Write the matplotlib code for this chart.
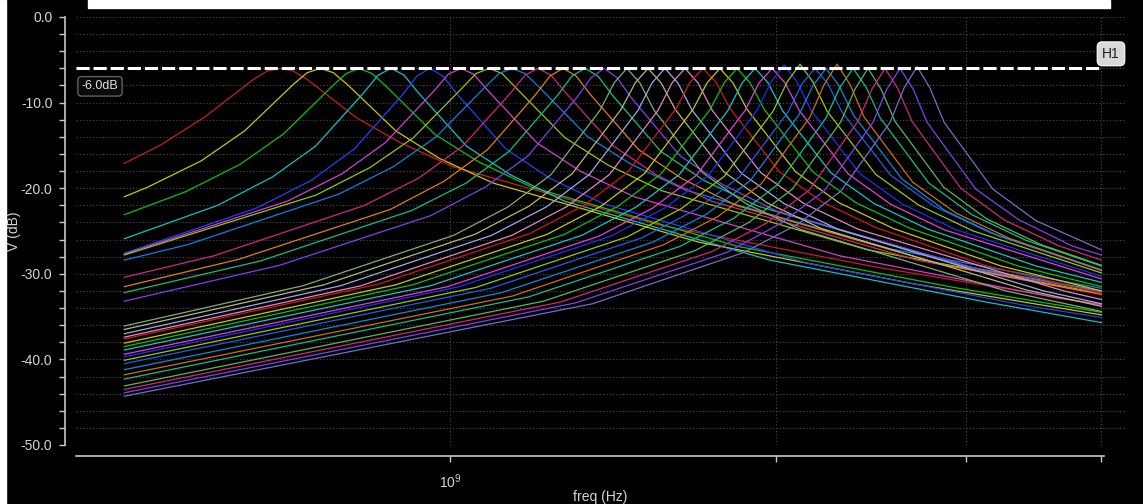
import matplotlib
matplotlib.use('Agg')
import matplotlib.pyplot as plt
from matplotlib import font_manager
from matplotlib.patches import Rectangle
from matplotlib.ticker import FixedLocator, NullFormatter, MultipleLocator
from matplotlib.transforms import blended_transform_factory

# frequency sweep of each curve (GHz), curves ordered by peak frequency
FREQ_GHZ = [
    [0.500, 0.541, 0.593, 0.658, 0.678, 0.697, 0.716, 0.738, 0.818, 0.897, 1.007, 1.560, 2.472, 4.000],
    [0.500, 0.525, 0.589, 0.646, 0.716, 0.738, 0.759, 0.780, 0.804, 0.891, 0.977, 1.096, 1.698, 2.691, 4.000],
    [0.500, 0.570, 0.640, 0.701, 0.778, 0.802, 0.824, 0.847, 0.873, 0.968, 1.062, 1.191, 1.845, 2.924, 4.000],
    [0.500, 0.610, 0.685, 0.751, 0.833, 0.858, 0.882, 0.907, 0.934, 1.036, 1.136, 1.275, 1.975, 3.129, 4.000],
    [0.500, 0.663, 0.744, 0.816, 0.905, 0.932, 0.958, 0.985, 1.015, 1.126, 1.235, 1.385, 2.145, 3.400, 4.000],
    [0.500, 0.708, 0.795, 0.871, 0.967, 0.996, 1.024, 1.052, 1.084, 1.203, 1.319, 1.480, 2.292, 3.632, 4.000],
    [0.500, 0.752, 0.843, 0.925, 1.026, 1.057, 1.087, 1.117, 1.151, 1.277, 1.400, 1.570, 2.432, 4.000],
    [0.500, 0.572, 0.789, 0.886, 0.971, 1.077, 1.110, 1.141, 1.173, 1.209, 1.341, 1.470, 1.649, 2.554, 4.000],
    [0.500, 0.605, 0.834, 0.936, 1.027, 1.139, 1.173, 1.206, 1.240, 1.278, 1.417, 1.554, 1.743, 2.700, 4.000],
    [0.500, 0.638, 0.880, 0.987, 1.083, 1.201, 1.237, 1.272, 1.308, 1.347, 1.494, 1.639, 1.838, 2.847, 4.000],
    [0.500, 0.668, 0.922, 1.035, 1.134, 1.258, 1.296, 1.333, 1.370, 1.412, 1.566, 1.717, 1.926, 2.984, 4.000],
    [0.500, 0.696, 0.960, 1.077, 1.181, 1.310, 1.350, 1.388, 1.427, 1.470, 1.631, 1.788, 2.006, 3.107, 4.000],
    [0.500, 0.731, 1.008, 1.131, 1.240, 1.376, 1.418, 1.457, 1.498, 1.544, 1.712, 1.877, 2.107, 3.263, 4.000],
    [0.500, 0.764, 1.054, 1.183, 1.297, 1.439, 1.483, 1.524, 1.567, 1.615, 1.791, 1.963, 2.203, 3.412, 4.000],
    [0.500, 0.792, 1.093, 1.227, 1.345, 1.492, 1.537, 1.580, 1.624, 1.674, 1.857, 2.036, 2.284, 3.538, 4.000],
    [0.500, 0.827, 1.141, 1.280, 1.404, 1.557, 1.604, 1.649, 1.695, 1.747, 1.938, 2.124, 2.384, 3.692, 4.000],
    [0.500, 0.859, 1.185, 1.330, 1.458, 1.618, 1.667, 1.713, 1.761, 1.815, 2.013, 2.207, 2.476, 3.118, 4.000],
    [0.500, 0.890, 1.229, 1.379, 1.512, 1.677, 1.728, 1.776, 1.826, 1.882, 2.087, 2.288, 2.568, 3.232, 4.000],
    [0.500, 0.923, 1.275, 1.430, 1.568, 1.739, 1.792, 1.842, 1.894, 1.952, 2.165, 2.373, 2.663, 3.352, 4.000],
    [0.500, 0.959, 1.324, 1.486, 1.629, 1.807, 1.862, 1.914, 1.968, 2.028, 2.249, 2.466, 2.767, 3.483, 4.000],
    [0.500, 0.995, 1.373, 1.540, 1.689, 1.874, 1.930, 1.985, 2.040, 2.102, 2.332, 2.556, 2.868, 4.000],
    [0.500, 1.020, 1.408, 1.580, 1.733, 1.922, 1.980, 2.036, 2.093, 2.156, 2.392, 2.622, 2.942, 4.000],
    [0.500, 1.056, 1.457, 1.635, 1.793, 1.989, 2.049, 2.106, 2.165, 2.231, 2.475, 2.713, 3.045, 4.000],
    [0.500, 1.090, 1.504, 1.688, 1.851, 2.053, 2.115, 2.174, 2.235, 2.303, 2.555, 2.801, 3.143, 4.000],
    [0.500, 1.116, 1.540, 1.728, 1.895, 2.102, 2.165, 2.226, 2.288, 2.358, 2.615, 2.867, 3.217, 4.000],
    [0.500, 1.142, 1.576, 1.769, 1.939, 2.151, 2.217, 2.279, 2.343, 2.414, 2.677, 2.935, 3.294, 4.000],
    [0.500, 1.182, 1.631, 1.830, 2.007, 2.226, 2.293, 2.358, 2.424, 2.498, 2.770, 3.037, 3.408, 4.000],
    [0.500, 1.220, 1.684, 1.889, 2.072, 2.298, 2.368, 2.434, 2.502, 2.578, 2.860, 3.135, 3.518, 4.000],
    [0.500, 1.265, 1.746, 1.959, 2.148, 2.382, 2.455, 2.524, 2.594, 2.673, 2.965, 3.251, 3.648, 4.000],
    [0.500, 1.306, 1.803, 2.022, 2.218, 2.460, 2.534, 2.606, 2.679, 2.760, 3.061, 3.356, 3.766, 4.000],
    [0.500, 1.354, 1.869, 2.097, 2.299, 2.551, 2.628, 2.702, 2.777, 2.862, 3.174, 3.480, 4.000],
]

# V (dB) at those frequencies
LEVEL_DB = [
    [-17.1, -14.9, -11.7, -7.3, -6.3, -6.0, -6.3, -7.3, -11.7, -14.6, -17.5, -24.3, -29.2, -33.6],
    [-21.0, -19.9, -16.8, -13.3, -7.9, -6.5, -6.0, -6.5, -7.9, -13.3, -16.5, -19.4, -26.3, -31.2, -34.8],
    [-23.1, -20.4, -17.2, -13.7, -8.1, -6.6, -6.0, -6.6, -8.1, -13.7, -16.9, -19.9, -26.8, -31.6, -34.5],
    [-25.9, -22.0, -18.7, -15.1, -8.8, -6.8, -6.0, -6.8, -8.8, -15.1, -18.4, -21.5, -28.4, -33.3, -35.7],
    [-27.6, -22.3, -19.1, -15.4, -9.0, -6.9, -6.0, -6.9, -9.0, -15.4, -18.8, -21.8, -28.8, -33.7, -35.1],
    [-27.7, -21.5, -18.3, -14.7, -8.6, -6.7, -6.0, -6.7, -8.6, -14.7, -18.0, -21.0, -27.9, -32.8, -33.6],
    [-27.8, -20.8, -17.6, -14.1, -8.3, -6.6, -6.0, -6.6, -8.3, -14.1, -17.3, -20.3, -27.2, -32.3],
    [-28.4, -26.6, -20.7, -17.5, -14.0, -8.2, -6.6, -6.0, -6.6, -8.2, -14.0, -17.2, -20.2, -27.1, -31.7],
    [-30.4, -27.9, -22.0, -18.8, -15.1, -8.8, -6.8, -6.0, -6.8, -8.8, -15.1, -18.5, -21.5, -28.4, -32.4],
    [-31.5, -28.3, -22.5, -19.2, -15.5, -9.0, -6.9, -6.0, -6.9, -9.0, -15.5, -18.9, -22.0, -28.9, -32.4],
    [-32.2, -28.5, -22.6, -19.4, -15.7, -9.1, -6.9, -6.0, -6.9, -9.1, -15.7, -19.1, -22.1, -29.1, -32.0],
    [-33.2, -29.0, -23.2, -19.9, -16.2, -9.4, -7.1, -6.0, -7.1, -9.4, -16.2, -19.6, -22.7, -29.6, -32.1],
    [-36.1, -31.4, -25.5, -22.2, -18.4, -10.9, -7.7, -6.0, -7.7, -10.9, -18.2, -21.8, -24.8, -32.0, -34.4],
    [-36.5, -31.3, -25.4, -22.1, -18.3, -10.8, -7.7, -6.0, -7.7, -10.8, -18.1, -21.7, -24.7, -31.9, -33.8],
    [-37.0, -31.4, -25.5, -22.2, -18.4, -10.9, -7.7, -6.0, -7.7, -10.9, -18.2, -21.8, -24.8, -32.0, -33.5],
    [-37.4, -31.4, -25.5, -22.2, -18.4, -10.9, -7.7, -6.0, -7.7, -10.9, -18.2, -21.8, -24.8, -32.0, -33.0],
    [-37.6, -31.2, -25.3, -22.0, -18.2, -10.7, -7.6, -6.0, -7.6, -10.7, -18.0, -21.6, -24.6, -29.0, -32.3],
    [-38.1, -31.3, -25.4, -22.1, -18.3, -10.8, -7.7, -6.0, -7.7, -10.8, -18.1, -21.7, -24.7, -29.1, -32.0],
    [-38.5, -31.3, -25.4, -22.1, -18.3, -10.8, -7.7, -6.0, -7.7, -10.8, -18.1, -21.7, -24.7, -29.1, -31.5],
    [-38.9, -31.4, -25.5, -22.2, -18.4, -10.9, -7.7, -6.0, -7.7, -10.9, -18.2, -21.8, -24.8, -29.1, -31.0],
    [-39.4, -31.5, -25.6, -22.3, -18.5, -10.9, -7.7, -6.0, -7.7, -10.9, -18.3, -21.9, -24.9, -30.6],
    [-39.7, -31.5, -25.6, -22.3, -18.5, -10.9, -7.6, -5.6, -7.6, -10.9, -18.3, -21.9, -24.9, -30.3],
    [-40.1, -31.6, -25.7, -22.4, -18.6, -11.0, -7.6, -5.5, -7.6, -11.0, -18.4, -22.0, -25.0, -29.9],
    [-40.5, -31.7, -25.8, -22.5, -18.7, -11.1, -7.8, -6.0, -7.8, -11.1, -18.5, -22.1, -25.1, -29.5],
    [-41.2, -32.2, -26.3, -23.0, -19.1, -11.4, -8.0, -6.0, -8.0, -11.4, -18.9, -22.6, -25.6, -29.6],
    [-41.8, -32.6, -26.6, -23.3, -19.5, -11.7, -7.9, -5.5, -7.9, -11.7, -19.3, -22.9, -25.9, -29.6],
    [-42.3, -32.7, -26.8, -23.5, -19.6, -11.8, -8.2, -6.0, -8.2, -11.8, -19.4, -23.1, -26.1, -29.1],
    [-43.1, -33.2, -27.3, -24.0, -20.1, -12.2, -8.4, -6.0, -8.4, -12.2, -19.9, -23.6, -26.6, -29.0],
    [-43.5, -33.3, -27.4, -24.1, -20.2, -12.2, -8.4, -6.0, -8.4, -12.2, -20.0, -23.7, -26.7, -28.4],
    [-43.9, -33.4, -27.5, -24.1, -20.3, -12.3, -8.4, -6.0, -8.4, -12.3, -20.1, -23.7, -26.8, -27.8],
    [-44.3, -33.5, -27.5, -24.2, -20.3, -12.3, -8.3, -5.8, -8.3, -12.3, -20.1, -23.8, -27.2],
]

COLORS = [
    '#c81e1e', '#c8c800', '#10c010', '#10c0c8', '#2040ff', '#d040d0',
    '#98c800', '#1080e0', '#d02878', '#e08010', '#10c080', '#8040f0',
    '#78b078', '#b8b878', '#a0a8e8', '#e088c0', '#d01818', '#c8c810',
    '#10c010', '#10c8c8', '#e040e0', '#2030f0', '#98c810', '#2060e0',
    '#1088d8', '#d07010', '#10c088', '#58b858', '#d02878', '#8040f0',
    '#7070c8',
]

MARKER_DB = -6.0
MARKER_LABEL = '-6.0dB'
MARKER_NAME = 'H1'
Y_MAJOR = [0, -10, -20, -30, -40, -50]
Y_LABELS = ['0.0', '-10.0', '-20.0', '-30.0', '-40.0', '-50.0']
X_MAJOR = [1e9]
X_MINOR = [2e9, 3e9, 4e9]

installed = {f.name for f in font_manager.fontManager.ttflist}
plt.rcParams['font.family'] = ['Liberation Sans' if 'Liberation Sans' in installed else 'DejaVu Sans', 'DejaVu Sans']

FG = '#d4d4d4'
W, H = 1143, 504

fig = plt.figure(figsize=(W / 100, H / 100), dpi=100, facecolor='black')
# window frame bits of the waveform viewer
fig.patches.append(Rectangle((0, 0), 6 / W, 1, transform=fig.transFigure, color='white', zorder=0))
fig.patches.append(Rectangle((88 / W, 1 - 8 / H), 1022 / W, 8 / H, transform=fig.transFigure,
                             color='white', zorder=0))

ax = fig.add_axes([76 / W, 59 / H, 1049 / W, 428 / H], facecolor='black')
ax.set_xscale('log')
ax.set_xlim(4.5115e8, 4.2056e9)
ax.set_ylim(-50, 0)

for f, db, c in zip(FREQ_GHZ, LEVEL_DB, COLORS):
    ax.plot([v * 1e9 for v in f], db, color=c, lw=0.9, solid_joinstyle='round')

# spines
for side in ['top', 'right']:
    ax.spines[side].set_visible(False)
ax.spines['left'].set_position(('outward', 8))
ax.spines['left'].set_bounds(-50, 0)
ax.spines['bottom'].set_position(('outward', 8))
ax.spines['bottom'].set_bounds(4.5115e8, 4.02e9)
for side in ['left', 'bottom']:
    ax.spines[side].set_color('#c8c8c8')
    ax.spines[side].set_linewidth(1.2)

ax.yaxis.set_major_locator(FixedLocator(Y_MAJOR))
ax.set_yticklabels(Y_LABELS)
ax.yaxis.set_minor_locator(MultipleLocator(2))
ax.xaxis.set_major_locator(FixedLocator(X_MAJOR))
ax.set_xticklabels([r'$\mathregular{10^{9}}$'])
ax.xaxis.set_minor_locator(FixedLocator(X_MINOR))
ax.xaxis.set_minor_formatter(NullFormatter())
ax.tick_params(axis='y', which='both', direction='out', length=4, width=1, color='#c8c8c8',
               labelcolor=FG, labelsize=10, pad=5)
ax.tick_params(axis='x', which='both', direction='out', length=4, width=1, color='#c8c8c8',
               labelcolor=FG, labelsize=10, pad=8)

ax.grid(True, which='both', color='#4a4a4a', lw=0.8, linestyle=(0, (1, 2)))
ax.set_axisbelow(True)

ax.set_xlabel('freq (Hz)', color=FG, fontsize=10)
ax.xaxis.set_label_coords(0.5, -0.105)
ax.set_ylabel('V (dB)', color=FG, fontsize=10, va='center')
ax.yaxis.set_label_coords(-0.059, 0.5)

# horizontal marker
mline = ax.axhline(MARKER_DB, xmin=0, xmax=(1100 - 76) / 1049, color='white', lw=2.2, zorder=5)
mline.set_dashes([4.3, 1.3])
trans = blended_transform_factory(ax.transAxes, ax.transData)
ax.text((1111 - 76) / 1049, -4.3, MARKER_NAME, transform=trans, ha='center', va='center',
        fontsize=10, color='#202020', zorder=6,
        bbox=dict(boxstyle='round,pad=0.35', fc='#d8d8d8', ec='#f0f0f0', lw=1))
ax.text((100 - 76) / 1049, -8.1, MARKER_LABEL, transform=trans, ha='center', va='center',
        fontsize=9, color='#e0e0e0', zorder=6,
        bbox=dict(boxstyle='round,pad=0.3', fc='#0a0a0a', ec='#606060', lw=1))

fig.savefig('out.png', dpi=100, facecolor='black')
